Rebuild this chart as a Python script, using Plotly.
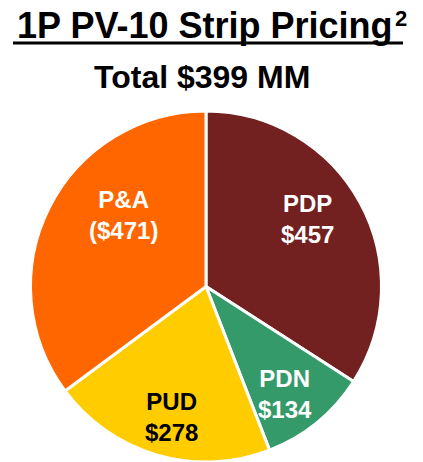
import plotly.graph_objects as go

categories = ["PDP", "PDN", "PUD", "P&A"]
values = [457, 134, 278, -471]
colors = ["#722020", "#359A69", "#FFCC00", "#FF6600"]
label_colors = ["white", "white", "black", "white"]
title = "1P PV-10 Strip Pricing"
footnote = "2"
subtitle = "Total $399 MM"

def fmt(v):
    return f"${v}" if v >= 0 else f"(${-v})"

W, H = 423, 462
# pie geometry (screen pixels)
cx, cy, r = 206, 287, 176

fig = go.Figure(go.Pie(
    labels=categories,
    values=[abs(v) for v in values],
    sort=False,
    direction="clockwise",
    rotation=0,
    marker=dict(colors=colors, line=dict(color="white", width=3)),
    textinfo="none",
    hoverinfo="label+value",
    showlegend=False,
    domain=dict(x=[max(0, (cx - r) / W), (cx + r) / W],
                y=[max(0, (H - (cy + r)) / H), (H - (cy - r)) / H]),
))

label_pos = [(307, 219), (285, 394), (171, 417), (124, 215)]
for cat, v, col, (px, py) in zip(categories, values, label_colors, label_pos):
    fig.add_annotation(
        x=px / W, y=1 - py / H, xref="paper", yref="paper",
        text=f"<b>{cat}<br>{fmt(v)}</b>", showarrow=False,
        font=dict(family="Liberation Sans, Arial", size=24, color=col),
        xanchor="center", yanchor="middle", align="center",
    )

fig.add_annotation(
    x=205 / W, y=1 - 26 / H, xref="paper", yref="paper",
    text=f"<b>{title}</b>", showarrow=False,
    font=dict(family="Liberation Sans, Arial", size=36, color="black"),
    xanchor="center", yanchor="middle",
)
fig.add_annotation(
    x=401 / W, y=1 - 18 / H, xref="paper", yref="paper",
    text=f"<b>{footnote}</b>", showarrow=False,
    font=dict(family="Liberation Sans, Arial", size=22, color="black"),
    xanchor="center", yanchor="middle",
)
fig.add_shape(type="line", xref="paper", yref="paper",
              x0=13 / W, x1=403 / W, y0=1 - 43 / H, y1=1 - 43 / H,
              line=dict(color="black", width=3))
fig.add_annotation(
    x=202 / W, y=1 - 77 / H, xref="paper", yref="paper",
    text=f"<b>{subtitle}</b>", showarrow=False,
    font=dict(family="Liberation Sans, Arial", size=32, color="black"),
    xanchor="center", yanchor="middle",
)

fig.update_layout(
    width=W, height=H,
    margin=dict(l=0, r=0, t=0, b=0),
    paper_bgcolor="white", plot_bgcolor="white",
)
fig.write_html("out.html", config={"displayModeBar": False},
               post_script="document.body.style.margin='0px';")
